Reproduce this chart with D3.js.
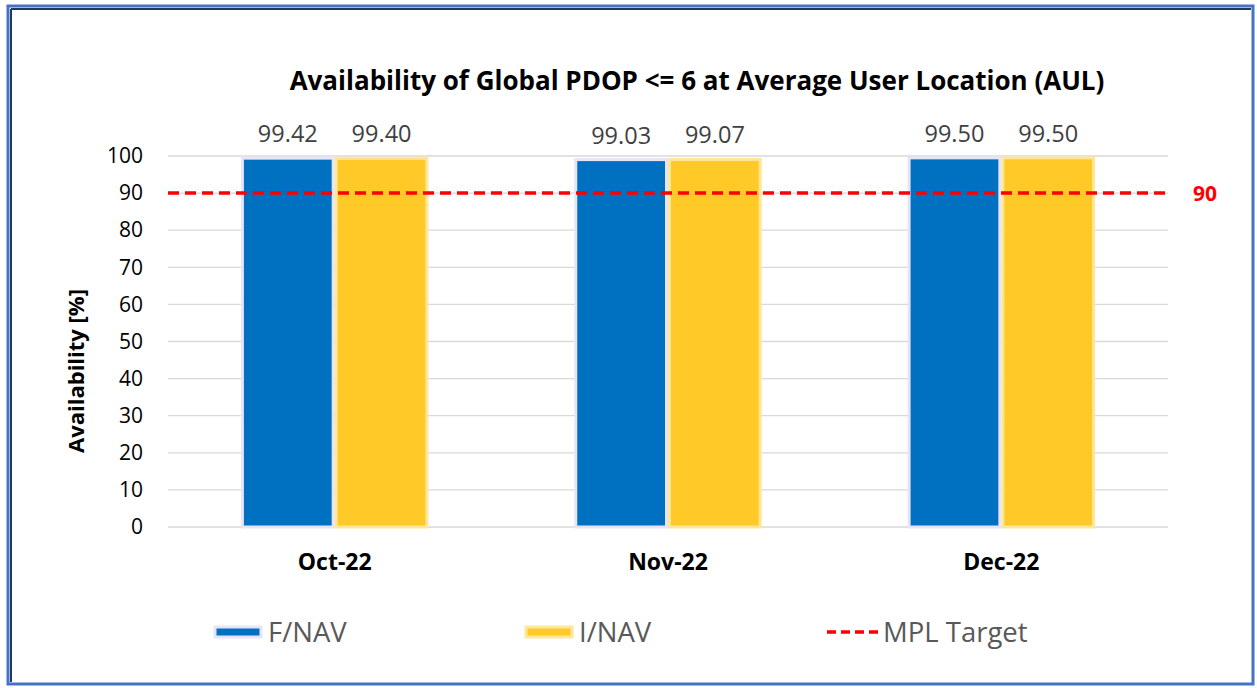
<!DOCTYPE html>
<html><head><meta charset="utf-8">
<script src="https://cdn.jsdelivr.net/npm/d3@7"></script>
<style>html,body{margin:0;padding:0;background:#fff;}svg{display:block;font-family:"Open Sans","Noto Sans",sans-serif;}</style>
</head><body>
<svg id="c" width="1257" height="688"></svg>
<script>
const categories = ["Oct-22", "Nov-22", "Dec-22"];
const seriesNames = ["F/NAV", "I/NAV"];
const fnav = [99.42, 99.03, 99.50];
const inav = [99.40, 99.07, 99.50];
const target = 90;
const yTicks = [0,10,20,30,40,50,60,70,80,90,100];
const colors = ["#0070c0", "#ffca28"];
const borders = ["#e8e4f8", "#ffe699"];

const svg = d3.select("#c");
// frame
svg.append("rect").attr("x",8).attr("y",6).attr("width",1245).attr("height",678)
  .attr("fill","#fff").attr("stroke","#4472c4").attr("stroke-width",3);
svg.append("line").attr("x1",11).attr("y1",9).attr("x2",11).attr("y2",682).attr("stroke","#1f3864").attr("stroke-width",2);
svg.append("line").attr("x1",11).attr("y1",9).attr("x2",1251).attr("y2",9).attr("stroke","#1f3864").attr("stroke-width",2);

const pL=168, pR=1168, pT=156, pB=527;
const x = d3.scaleBand().domain(categories).range([pL,pR]).paddingInner(0.4375).paddingOuter(0.21875);
const xs = d3.scaleBand().domain(seriesNames).range([0, x.bandwidth()]);
const y = d3.scaleLinear().domain([0,100]).range([pB, pT]);

// gridlines
svg.append("g").selectAll("line").data(yTicks).join("line")
  .attr("x1",pL).attr("x2",pR).attr("y1",d=>y(d)).attr("y2",d=>y(d))
  .attr("stroke","#d9d9d9").attr("stroke-width",1.3);

// y axis labels
const yAxis = d3.axisLeft(y).tickValues(yTicks).tickSize(0).tickPadding(0);
const gy = svg.append("g").attr("transform",`translate(${pL-25},0)`).call(yAxis);
gy.select(".domain").remove();
gy.selectAll("text").attr("font-size",21).attr("fill","#000").style("font-family","'Open Sans',sans-serif");

// bars
const data = categories.map((c,i)=>({c, vals:[fnav[i], inav[i]]}));
const g = svg.append("g");
data.forEach(d=>{
  d.vals.forEach((v,j)=>{
    const bx = x(d.c) + xs(seriesNames[j]);
    g.append("rect").attr("x",bx+1.5).attr("y",y(v)).attr("width",xs.bandwidth()-3)
      .attr("height",y(0)-y(v)).attr("fill",colors[j]).attr("stroke",borders[j]).attr("stroke-width",3);
    g.append("text").attr("x",bx+xs.bandwidth()/2).attr("y",y(v)-16).attr("text-anchor","middle")
      .attr("font-size",23.5).attr("fill","#404040").text(v.toFixed(2));
  });
});

// target line
svg.append("line").attr("x1",pL).attr("x2",pR).attr("y1",y(target)).attr("y2",y(target))
  .attr("stroke","#ff0000").attr("stroke-width",3.5).attr("stroke-dasharray","11,6");
svg.append("text").attr("x",1205).attr("y",y(target)+8).attr("text-anchor","middle")
  .attr("font-size",21).attr("font-weight","bold").attr("fill","#ff0000").text(target);

// x axis labels
const xAxis = d3.axisBottom(x).tickSize(0).tickPadding(0);
const gx = svg.append("g").attr("transform",`translate(0,${pB+43})`).call(xAxis);
gx.select(".domain").remove();
gx.selectAll("text").attr("font-size",23).attr("font-weight","bold").attr("fill","#000").attr("dy",0)
  .style("font-family","'Open Sans',sans-serif");

// title
svg.append("text").attr("x",697).attr("y",90).attr("text-anchor","middle")
  .attr("font-size",26).attr("font-weight","bold").attr("fill","#000")
  .text("Availability of Global PDOP <= 6 at Average User Location (AUL)");

// y title
svg.append("text").attr("transform",`translate(84,371) rotate(-90)`)
  .attr("text-anchor","middle").attr("font-size",22).attr("font-weight","bold").attr("fill","#000")
  .text("Availability [%]");

// legend
const ly = 632;
const leg = [{x:213, name:seriesNames[0], type:"bar", i:0},{x:524, name:seriesNames[1], type:"bar", i:1},{x:827, name:"MPL Target", type:"line"}];
leg.forEach(l=>{
  if(l.type==="bar"){
    svg.append("rect").attr("x",l.x+2).attr("y",ly-5).attr("width",46).attr("height",10)
      .attr("fill",colors[l.i]).attr("stroke",borders[l.i]).attr("stroke-width",3);
    svg.append("text").attr("x",l.x+55).attr("y",ly+10).attr("font-size",27.5).attr("fill","#595959").text(l.name);
  } else {
    svg.append("line").attr("x1",l.x).attr("x2",l.x+51).attr("y1",ly).attr("y2",ly)
      .attr("stroke","#ff0000").attr("stroke-width",3.5).attr("stroke-dasharray","9,5");
    svg.append("text").attr("x",l.x+56).attr("y",ly+10).attr("font-size",27.5).attr("fill","#595959").text(l.name);
  }
});
</script>
</body></html>
